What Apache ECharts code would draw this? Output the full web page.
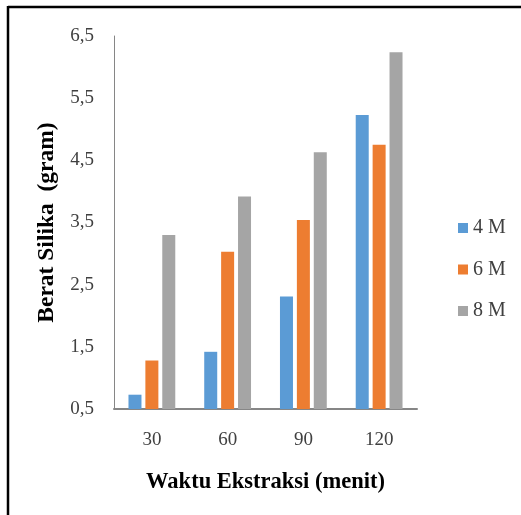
<!DOCTYPE html>
<html>
<head>
<meta charset="utf-8">
<script src="https://cdn.jsdelivr.net/npm/echarts@6/dist/echarts.min.js"></script>
<style>
  html, body { margin: 0; padding: 0; background: #fff; }
  #chart { width: 521px; height: 515px; }
</style>
</head>
<body>
<div id="chart"></div>
<script>
// Extraction time (minutes)
const categories = ['30', '60', '90', '120'];
// Silica weight (gram) per NaOH concentration
const series4M = [0.73, 1.42, 2.31, 5.23];
const series6M = [1.28, 3.03, 3.54, 4.75];
const series8M = [3.30, 3.92, 4.63, 6.24];
const seriesNames = ['4 M', '6 M', '8 M'];
const colors = ['#5B9BD5', '#ED7D31', '#A5A5A5'];

const serif = '"Liberation Serif", "Times New Roman", serif';
const chart = echarts.init(document.getElementById('chart'), null, { renderer: 'canvas' });

const mkSeries = (name, data, color) => ({
  name: name,
  type: 'bar',
  data: data,
  barWidth: 13,
  barGap: '30%',
  itemStyle: { color: color }
});

chart.setOption({
  animation: false,
  backgroundColor: '#fff',
  grid: { left: 114, right: 104, top: 36, bottom: 106, containLabel: false },
  legend: {
    orient: 'vertical',
    left: 453,
    top: 213,
    itemWidth: 10,
    itemHeight: 10,
    itemGap: 21.5,
    icon: 'rect',
    textStyle: { fontFamily: serif, fontSize: 20, color: '#404040' },
    data: seriesNames
  },
  xAxis: {
    type: 'category',
    data: categories,
    name: 'Waktu Ekstraksi (menit)',
    nameLocation: 'middle',
    nameGap: 62,
    nameTextStyle: { fontFamily: serif, fontSize: 22.5, fontWeight: 'bold', color: '#000' },
    axisLine: { lineStyle: { color: '#868686', width: 2 } },
    axisTick: { show: false },
    axisLabel: { fontFamily: serif, fontSize: 19, color: '#404040', margin: 22 }
  },
  yAxis: {
    type: 'value',
    min: 0.5,
    max: 6.5,
    interval: 1,
    name: 'Berat Silika  (gram)',
    nameLocation: 'middle',
    nameGap: 51,
    nameTextStyle: { fontFamily: serif, fontSize: 23.5, fontWeight: 'bold', color: '#000' },
    axisLine: { show: true, lineStyle: { color: '#868686', width: 1 } },
    axisTick: { show: false },
    splitLine: { show: false },
    axisLabel: {
      fontFamily: serif, fontSize: 19, color: '#404040', margin: 20,
      formatter: v => v.toFixed(1).replace('.', ',')
    }
  },
  series: [
    mkSeries(seriesNames[0], series4M, colors[0]),
    mkSeries(seriesNames[1], series6M, colors[1]),
    mkSeries(seriesNames[2], series8M, colors[2])
  ],
  graphic: [
    { type: 'line', shape: { x1: 8, y1: 7, x2: 521, y2: 7 }, style: { stroke: '#000', lineWidth: 2.5 } },
    { type: 'line', shape: { x1: 8, y1: 6, x2: 8, y2: 515 }, style: { stroke: '#000', lineWidth: 2.5 } }
  ]
});
</script>
</body>
</html>
